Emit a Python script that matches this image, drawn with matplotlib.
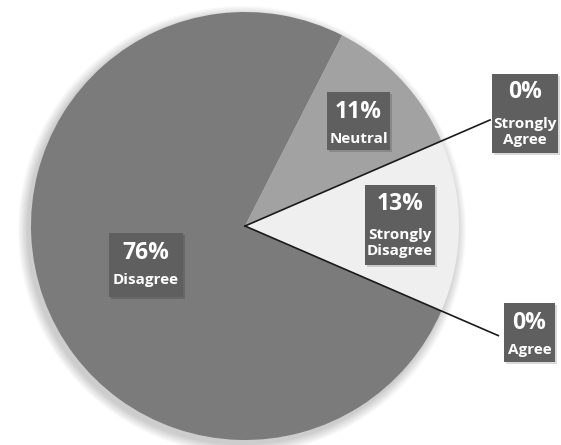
import numpy as np
import matplotlib.pyplot as plt
from matplotlib.patches import Circle, Rectangle

labels = ["Disagree", "Agree", "Strongly\nDisagree", "Strongly\nAgree", "Neutral"]
shares = [76, 0, 13, 0, 11]
colors = ["#7b7b7b", "#7b7b7b", "#efefef", "#a2a2a2", "#a2a2a2"]

W, H = 561, 445
fig = plt.figure(figsize=(W / 100, H / 100), dpi=100)
ax = fig.add_axes([0, 0, 1, 1])
ax.set_xlim(0, W)
ax.set_ylim(0, H)
ax.set_aspect("equal")
ax.axis("off")

cx, cy, r = 245, 445 - 226, 214
start = 63

# soft shadow round the pie
for k in range(10):
    ax.add_patch(Circle((cx - 3, cy - 4), r + 10 - k, color="black", alpha=0.018, lw=0, zorder=0))

ax.pie(shares, colors=colors, startangle=start, counterclock=True, center=(cx, cy),
       radius=r, wedgeprops=dict(linewidth=0), frame=True)
ax.set_xlim(0, W)
ax.set_ylim(0, H)
ax.axis("off")

# leader lines for the zero slices
cum = start + np.cumsum([0] + shares[:-1]) * 3.6
line_len = {1: 276, 3: 267}
for i, L in line_len.items():
    a = np.deg2rad(cum[i])
    ax.plot([cx, cx + L * np.cos(a)], [cy, cy + L * np.sin(a)], color="#1a1a1a", lw=1.2, zorder=3)

# label boxes in picture coords: (x0, x1, y0, y1), pct y, name y
boxes = {
    0: (109, 183, 233, 297, 253, 280),
    1: (504, 555, 303, 362, 323, 350),
    2: (365, 435, 185, 265, 204, 243),
    3: (492, 558, 74, 153, 92, 132),
    4: (327, 390, 92, 150, 112, 139),
}
for i, (x0, x1, y0, y1, yp, yn) in boxes.items():
    ax.add_patch(Rectangle((x0 + 2, H - y1 - 2), x1 - x0, y1 - y0, color="black", alpha=0.15, lw=0, zorder=4))
    ax.add_patch(Rectangle((x0, H - y1), x1 - x0, y1 - y0, color="#5f5f5f", lw=0, zorder=5))
    xm = (x0 + x1) / 2
    ax.text(xm, H - yp, f"{shares[i]}%", color="white", fontsize=16.5, fontweight="bold",
            family="Open Sans", ha="center", va="center", zorder=6)
    ax.text(xm, H - yn, labels[i], color="white", fontsize=11, fontweight="bold",
            family="Open Sans", ha="center", va="center", linespacing=1.25, zorder=6)

fig.savefig("out.png", dpi=100)
